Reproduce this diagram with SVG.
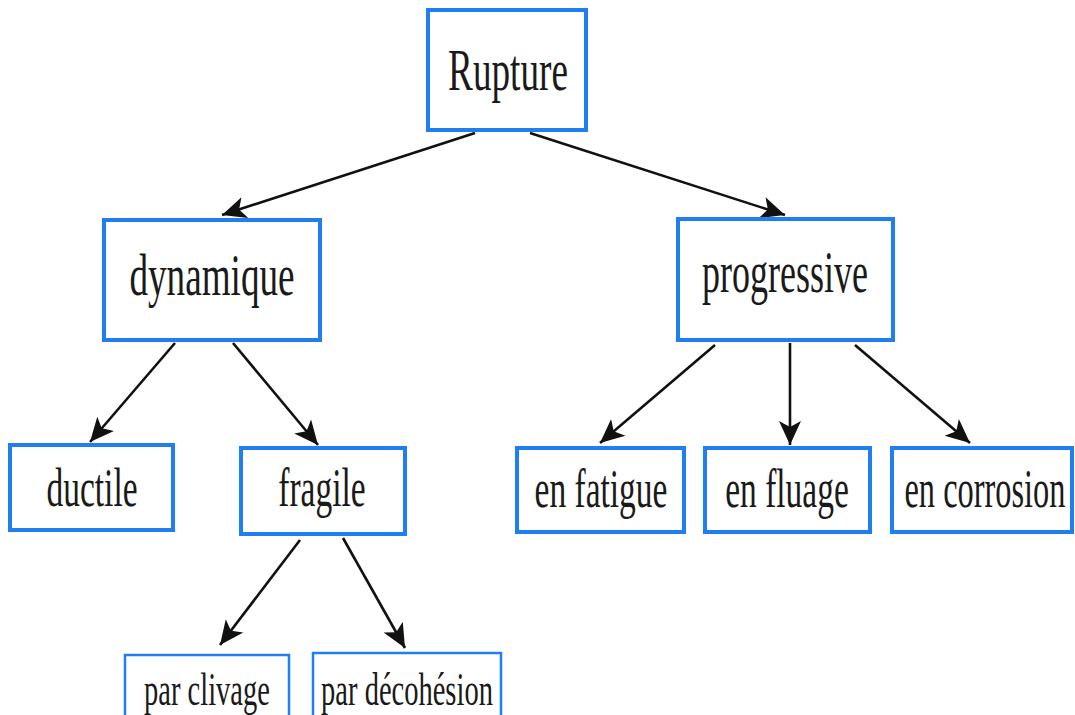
<svg xmlns="http://www.w3.org/2000/svg" width="1075" height="715" viewBox="0 0 1075 715">
<style>
.box{fill:#fff;stroke:#1f7ff0;stroke-width:4}
.sbox{fill:#fff;stroke:#1f7ff0;stroke-width:2.5}
.lbl{font-family:"Liberation Serif",serif;font-size:60px;fill:#1a1a1a;text-anchor:middle}
.mlbl{font-family:"Liberation Serif",serif;font-size:54px;fill:#1a1a1a;text-anchor:middle}
.slbl{font-family:"Liberation Serif",serif;font-size:46px;fill:#1a1a1a;text-anchor:middle}
.edge{stroke:#111;stroke-width:2.6;fill:none;marker-end:url(#ah)}
</style>
<defs>
<marker id="ah" markerUnits="userSpaceOnUse" markerWidth="28" markerHeight="26" refX="24" refY="12" orient="auto" viewBox="0 0 28 24">
<path d="M0,1 L24,12 L0,23 L6,12 Z" fill="#111"/>
</marker>
</defs>
<rect width="1075" height="715" fill="#fff"/>
<g id="connectors">
<line class="edge" x1="475" y1="133" x2="222" y2="215"/>
<line class="edge" x1="530" y1="133" x2="785" y2="215"/>
<line class="edge" x1="175" y1="343" x2="90" y2="442"/>
<line class="edge" x1="233" y1="343" x2="318" y2="445"/>
<line class="edge" x1="715" y1="345" x2="600" y2="443"/>
<line class="edge" x1="790" y1="343" x2="790" y2="445"/>
<line class="edge" x1="855" y1="345" x2="970" y2="443"/>
<line class="edge" x1="300" y1="540" x2="220" y2="645"/>
<line class="edge" x1="343" y1="538" x2="405" y2="648"/>
</g>
<g id="rupture"><rect class="box" x="428" y="10" width="158" height="120"/><text class="lbl" transform="translate(508,90) scale(0.62,1)">Rupture</text></g>
<g id="dynamique"><rect class="box" x="104" y="220" width="216" height="120"/><text class="lbl" transform="translate(212,295) scale(0.62,1)">dynamique</text></g>
<g id="progressive"><rect class="box" x="678" y="219" width="215" height="121"/><text class="lbl" transform="translate(785,292) scale(0.6,1)">progressive</text></g>
<g id="ductile"><rect class="box" x="10" y="445" width="163" height="85"/><text class="mlbl" transform="translate(92,506) scale(0.62,1)">ductile</text></g>
<g id="fragile"><rect class="box" x="241" y="448" width="164" height="86"/><text class="mlbl" transform="translate(322,506) scale(0.62,1)">fragile</text></g>
<g id="en-fatigue"><rect class="box" x="517" y="448" width="167" height="84"/><text class="mlbl" transform="translate(601,507) scale(0.62,1)">en fatigue</text></g>
<g id="en-fluage"><rect class="box" x="705" y="448" width="165" height="84"/><text class="mlbl" transform="translate(787,507) scale(0.62,1)">en fluage</text></g>
<g id="en-corrosion"><rect class="box" x="892" y="448" width="180" height="84"/><text class="mlbl" transform="translate(985,507) scale(0.6,1)">en corrosion</text></g>
<g id="par-clivage"><rect class="sbox" x="125" y="655" width="164" height="62"/><text class="slbl" transform="translate(207,705) scale(0.62,1)">par clivage</text></g>
<g id="par-decohesion"><rect class="sbox" x="313" y="653" width="188" height="64"/><text class="slbl" transform="translate(407,705) scale(0.62,1)">par décohésion</text></g>
</svg>
